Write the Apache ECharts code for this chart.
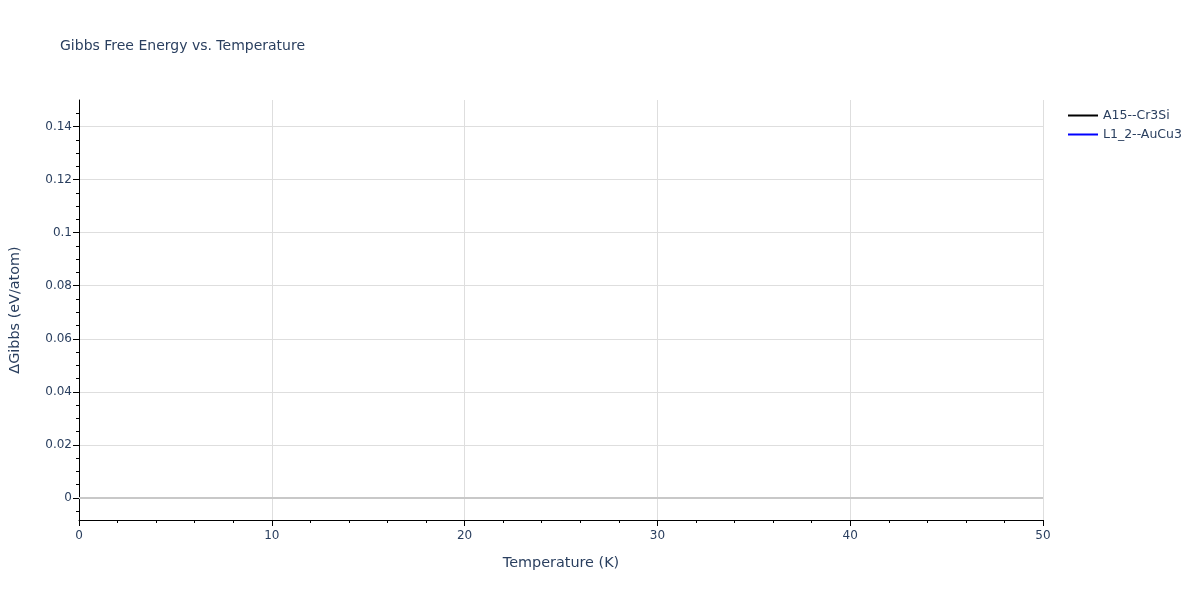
<!DOCTYPE html>
<html>
<head>
<meta charset="utf-8">
<script src="https://cdn.jsdelivr.net/npm/echarts@6/dist/echarts.min.js"></script>
<style>html,body{margin:0;padding:0;background:#fff}#c{width:1200px;height:600px}</style>
</head>
<body>
<div id="c"></div>
<script>
const seriesNames = ['A15--Cr3Si', 'L1_2--AuCu3'];
const seriesColors = ['#000000', '#0000ff'];
const a15Values = [];
const l12Values = [];
const yTickValues = [0, 0.02, 0.04, 0.06, 0.08, 0.1, 0.12, 0.14];
const yMinorTickValues = [-0.005, 0, 0.005, 0.01, 0.015, 0.02, 0.025, 0.03, 0.035, 0.04, 0.045, 0.05, 0.055, 0.06, 0.065, 0.07, 0.075, 0.08, 0.085, 0.09, 0.095, 0.1, 0.105, 0.11, 0.115, 0.12, 0.125, 0.13, 0.135, 0.14, 0.145];
const yRange = [-0.0083, 0.15];
const xRange = [0, 50];

const txt = '#2a3f5f';
const font = '"DejaVu Sans", Verdana, sans-serif';
const chart = echarts.init(document.getElementById('c'));
chart.setOption({
  animation: false,
  backgroundColor: '#fff',
  textStyle: { fontFamily: font },
  title: {
    text: 'Gibbs Free Energy vs. Temperature',
    left: 55, top: 34,
    textStyle: { fontFamily: font, fontSize: 14, fontWeight: 'normal', color: txt }
  },
  legend: {
    orient: 'vertical', left: 1063, top: 104,
    itemWidth: 30, itemHeight: 2, itemGap: 6,
    icon: 'rect',
    textStyle: { fontFamily: font, fontSize: 12.5, color: txt },
    data: seriesNames
  },
  grid: { left: 79, right: 157, top: 100, bottom: 80 },
  xAxis: {
    type: 'value', min: xRange[0], max: xRange[1], interval: 10,
    name: 'Temperature (K)', nameLocation: 'middle', nameGap: 36,
    nameTextStyle: { fontFamily: font, fontSize: 14.4, color: txt },
    axisLine: { show: true, onZero: false, lineStyle: { color: '#000', width: 1 } },
    axisTick: { show: true, length: 6, lineStyle: { color: '#000' } },
    minorTick: { show: true, splitNumber: 5, length: 3, lineStyle: { color: '#000' } },
    axisLabel: { fontFamily: font, fontSize: 12, color: txt, margin: 10 },
    splitLine: { show: true, lineStyle: { color: '#dedede', width: 1 } }
  },
  yAxis: [{
    type: 'value', min: yRange[0], max: yRange[1],
    position: 'left',
    name: 'ΔGibbs (eV/atom)', nameLocation: 'middle', nameGap: 57,
    nameTextStyle: { fontFamily: font, fontSize: 14.4, color: txt },
    axisLine: { show: true, onZero: false, lineStyle: { color: '#000', width: 1 } },
    axisTick: { show: true, length: 6, customValues: yTickValues, lineStyle: { color: '#000' } },
    axisLabel: { fontFamily: font, fontSize: 12, color: txt, margin: 7, customValues: yTickValues },
    splitLine: { show: true, lineStyle: { color: '#dedede', width: 1 } }
  }, {
    type: 'value', min: yRange[0], max: yRange[1],
    position: 'left', offset: 0,
    axisLine: { show: false, onZero: false },
    axisTick: { show: true, length: 3, customValues: yMinorTickValues, lineStyle: { color: '#000' } },
    axisLabel: { show: false },
    splitLine: { show: false }
  }],
  series: [{
    name: seriesNames[0], type: 'line', data: a15Values,
    showSymbol: false, lineStyle: { color: seriesColors[0], width: 2 },
    itemStyle: { color: seriesColors[0] },
    markLine: {
      silent: true, symbol: 'none', label: { show: false },
      lineStyle: { color: '#c8c8c8', width: 2, type: 'solid' },
      data: [{ yAxis: 0 }]
    }
  }, {
    name: seriesNames[1], type: 'line', data: l12Values,
    showSymbol: false, lineStyle: { color: seriesColors[1], width: 2 },
    itemStyle: { color: seriesColors[1] }
  }]
});
</script>
</body>
</html>
